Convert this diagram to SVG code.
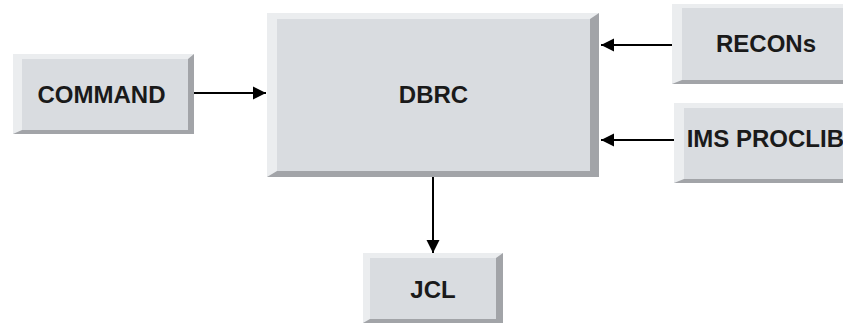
<svg xmlns="http://www.w3.org/2000/svg" width="843" height="333" viewBox="0 0 843 333">
<style>
.dark{fill:#a2a4a8}
.light{fill:#ebedef}
.face{fill:#d9dce0}
.lbl{font-family:"Liberation Sans",Arial,sans-serif;font-weight:bold;font-size:24px;fill:#1a1a1a}
.conn{stroke:#000;stroke-width:2;fill:none}
</style>
<defs>
<marker id="ah" markerUnits="userSpaceOnUse" markerWidth="15" markerHeight="15" viewBox="0 0 15 15" refX="14" refY="7.5" orient="auto">
<path d="M1,1 L14,7.5 L1,14 Z" fill="#000"/>
</marker>
</defs>
<rect width="843" height="333" fill="#fff"/>
<g id="command">
<rect class="dark" x="13" y="54" width="181" height="80"/>
<polygon class="light" points="13,54 194,54 188,59 22,130 13,134"/>
<rect class="face" x="22" y="59" width="166" height="71"/>
<text class="lbl" x="101.5" y="103.3" text-anchor="middle">COMMAND</text>
</g>
<g id="dbrc">
<rect class="dark" x="267" y="13" width="332" height="164"/>
<polygon class="light" points="267,13 599,13 590,19 277,171 267,177"/>
<rect class="face" x="277" y="19" width="313" height="152"/>
<text class="lbl" x="433.5" y="103.3" text-anchor="middle">DBRC</text>
</g>
<g id="recons">
<rect class="dark" x="672" y="4" width="180" height="80"/>
<polygon class="light" points="672,4 852,4 852,8 682,80 672,84"/>
<rect class="face" x="682" y="8" width="170" height="72"/>
<text class="lbl" x="766" y="51.7" text-anchor="middle">RECONs</text>
</g>
<g id="imsproclib">
<rect class="dark" x="674" y="103" width="180" height="80"/>
<polygon class="light" points="674,103 854,103 854,108 684,179 674,183"/>
<rect class="face" x="684" y="108" width="170" height="71"/>
<text class="lbl" x="686.7" y="147" text-anchor="start">IMS PROCLIB</text>
</g>
<g id="jcl">
<rect class="dark" x="363" y="253" width="140" height="70"/>
<polygon class="light" points="363,253 503,253 496,258 370,319 363,323"/>
<rect class="face" x="370" y="258" width="126" height="61"/>
<text class="lbl" x="433" y="298" text-anchor="middle">JCL</text>
</g>
<g id="connectors">
<line class="conn" x1="194" y1="93" x2="266" y2="93" marker-end="url(#ah)"/>
<line class="conn" x1="672" y1="45" x2="601" y2="45" marker-end="url(#ah)"/>
<line class="conn" x1="674" y1="140" x2="601" y2="140" marker-end="url(#ah)"/>
<line class="conn" x1="433" y1="177" x2="433" y2="253" marker-end="url(#ah)"/>
</g>
</svg>
